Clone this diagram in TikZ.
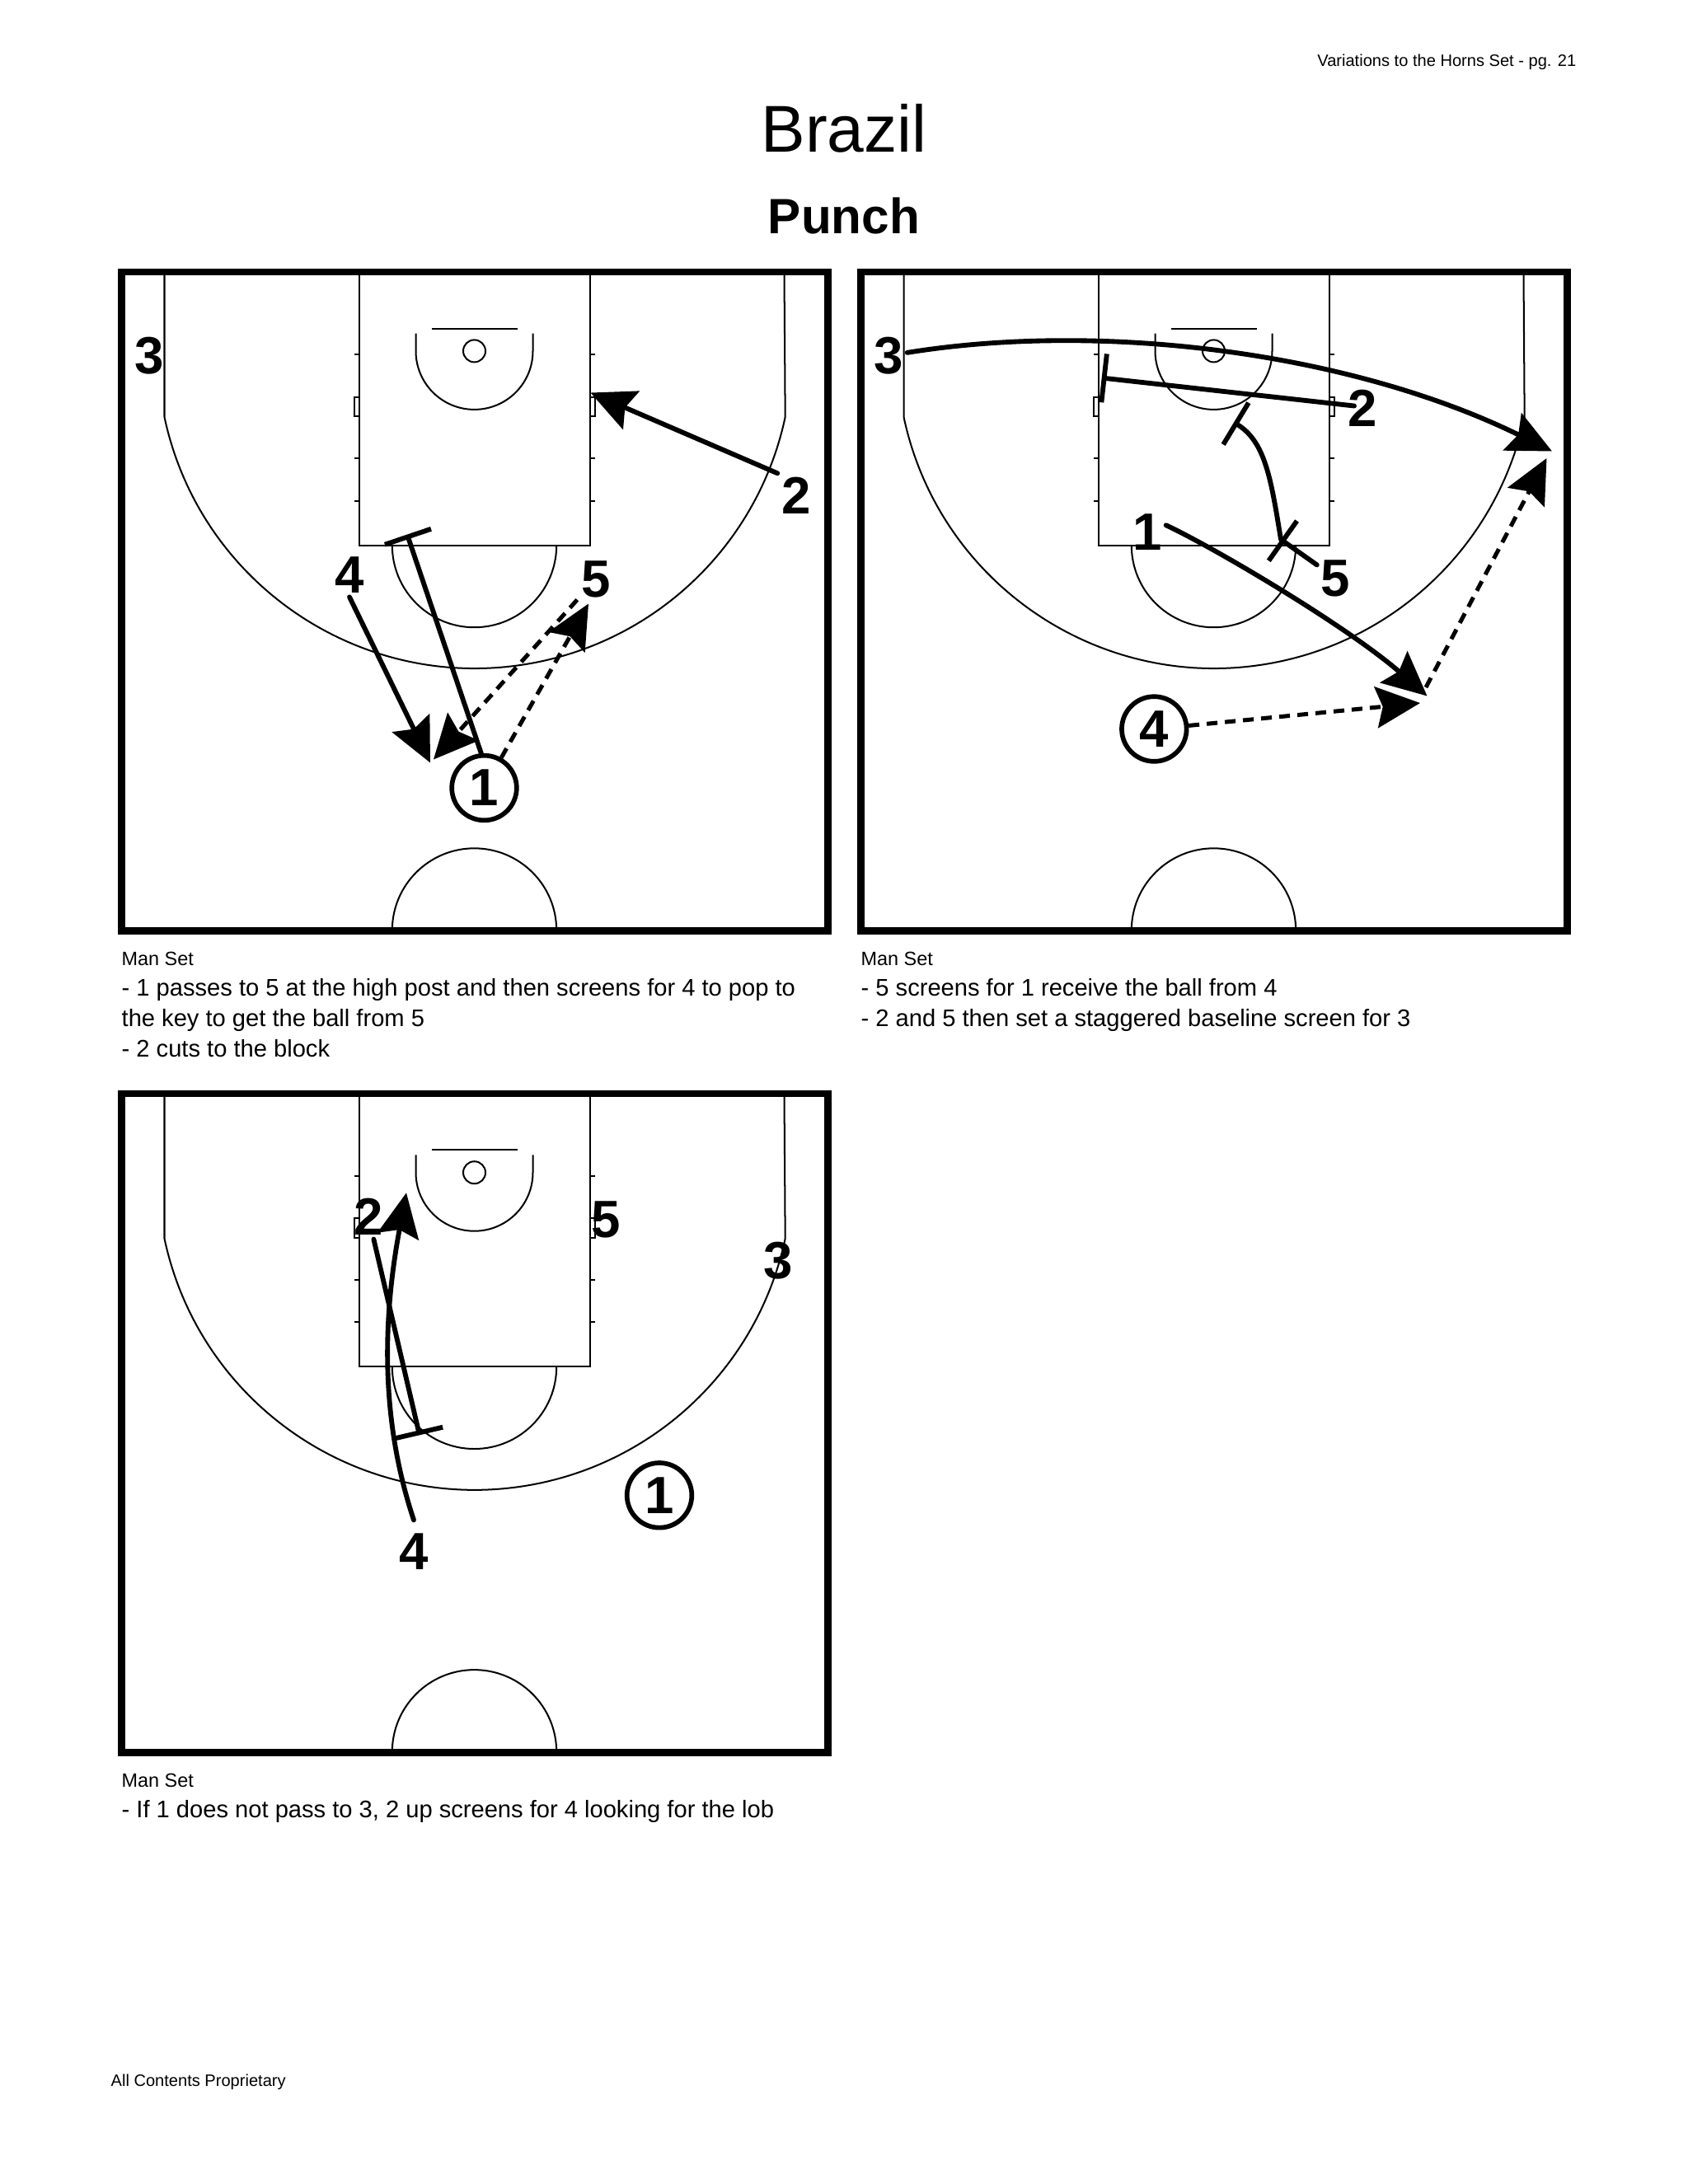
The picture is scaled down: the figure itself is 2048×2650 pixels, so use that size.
\documentclass[tikz,border=0pt]{standalone}
\usepackage{fontspec}
\setmainfont{Liberation Sans}
\usetikzlibrary{arrows.meta, positioning}

% half court, local origin at the top left corner of the frame
\newcommand{\courtlines}{
    \draw[thickline] (-0.5,-0.5) rectangle (856.5,799);
    \draw[courtline] (288,0) -- (288,331) -- (568,331) -- (568,0);
    \draw[courtline] (375.5,68) -- (479.5,68);
    \draw[courtline] (427.5,95.4) circle[radius=13.5];
    \draw[courtline] (356.5,74) -- (356.5,95.4) arc[start angle=180, end angle=0, radius=71] -- (498.5,74);
    \draw[courtline] (327.8,331) arc[start angle=180, end angle=0, radius=99.7];
    \draw[courtline] (327.8,798.5) arc[start angle=180, end angle=360, radius=99.7];
    \draw[courtline] (51.5,0) -- (51.5,175.5) arc[start angle=168, end angle=12, radius=385] -- (803.5,0);
    \foreach \ty in {99.7,225.5,277} {
        \draw[courtline] (282,\ty) -- (288,\ty);
        \draw[courtline] (568,\ty) -- (574,\ty);
    }
    \draw[courtline] (282,151) rectangle (288,174.5);
    \draw[courtline] (568,151) rectangle (574,174.5);
}

\begin{document}
\begin{tikzpicture}[
    x=0.29883pt, y=0.29883pt, yscale=-1,
    courtline/.style={line width=0.6pt},
    thickline/.style={line width=2.5pt},
    player/.style={font=\fontsize{19}{19}\selectfont\bfseries, inner sep=0pt, outer sep=1.5pt},
    ballplayer/.style={player, circle, draw, line width=1.7pt, minimum size=23.5pt, outer sep=0.8pt},
    cut/.style={line width=1.75pt, line cap=round, -{Stealth[length=16pt, width=15pt, inset=2.4pt]}},
    pass/.style={cut, line width=1.5pt, dash pattern=on 3.9pt off 2.7pt, line cap=butt},
    screen/.style={line width=1.75pt, line cap=round, -{Bar[width=17.7pt]}},
    caption/.style={font=\fontsize{8.7}{11.1}\selectfont, align=left, anchor=north west, inner sep=0pt},
    setnote/.style={font=\fontsize{7}{9}\selectfont, inner sep=0pt, anchor=west},
    smallnote/.style={font=\fontsize{6}{8}\selectfont, inner sep=0pt},
]

\useasboundingbox (0,0) rectangle (2048,2650);

% Heading
\node[smallnote, anchor=east] (pagehead) at (1913,75) {Variations to the Horns Set - pg. 21};
\node[font=\fontsize{24}{24}\selectfont, inner sep=0pt] (title) at (1024,155.5) {Brazil};
\node[font=\fontsize{18}{18}\selectfont\bfseries, inner sep=0pt] (subtitle) at (1024,262) {Punch};

% Court 1
\begin{scope}[shift={(148,330.5)}]
\courtlines
\node[player] (a3) at (33,101) {3};
\node[player] (a2) at (818,271) {2};
\node[player] (a4) at (276,367) {4};
\node[player] (a5) at (575,372) {5};
\node[ballplayer] (a1) at (439.5,625.5) {1};
\coordinate (a2end) at (568.5,146);
\coordinate (a4end) at (374,595);
\coordinate (a5end) at (378,591);
\coordinate (a1end) at (566,402);
\coordinate (a1screen) at (346,318);
\draw[cut] (a2.north west) -- (a2end);
\draw[cut] (a4.south) -- (a4end);
\draw[pass] (a5) -- (a5end);
\draw[pass] (a1) -- (a1end);
\draw[screen] (a1.95) -- (a1screen);
\node[setnote] (aset) at (-1,833) {Man Set};
\node[caption] (atext) at (-1,856)
    {- 1 passes to 5 at the high post and then screens for 4 to pop to\\the key to get the ball from 5\\- 2 cuts to the block};
\end{scope}

% Court 2
\begin{scope}[shift={(1045,330.5)}]
\courtlines
\node[player] (b3) at (33,101) {3};
\node[player] (b2) at (608,165) {2};
\node[player] (b5) at (575.5,371) {5};
\node[player] (b1) at (347,315) {1};
\node[ballplayer] (b4) at (355.3,554) {4};
\coordinate (b3end) at (838,217);
\coordinate (b2start) at (598,162);
\coordinate (b2screen) at (291.7,128);
\coordinate (b5screen) at (509,324);
\coordinate (b5top) at (452,182);
\coordinate (b1end) at (686.5,514);
\coordinate (b4end) at (678,522.5);
\coordinate (b4cut) at (685,503.5);
\coordinate (b4cutend) at (831.5,225.5);
\draw[cut] (b3) .. controls (300,58) and (600,100) .. (b3end);
\draw[screen] (b2start) -- (b2screen);
\draw[screen] (b5) -- (b5screen);
\draw[screen] (b5screen) .. controls (497,250) and (490,205) .. (b5top);
\draw[cut] (b1.20) .. controls (430,335) and (590,430) .. (b1end);
\draw[pass] (b4) -- (b4end);
\draw[pass] (b4cut) -- (b4cutend);
\node[setnote] (bset) at (-1,833) {Man Set};
\node[caption] (btext) at (-1,856)
    {- 5 screens for 1 receive the ball from 4\\- 2 and 5 then set a staggered baseline screen for 3};
\end{scope}

% Court 3
\begin{scope}[shift={(148,1327.3)}]
\courtlines
\node[player] (c2) at (299,149) {2};
\node[player] (c5) at (587,153) {5};
\node[player] (c3) at (796.5,202) {3};
\node[player] (c4) at (354,555.6) {4};
\node[ballplayer] (c1) at (652,487) {1};
\coordinate (c4start) at (354,517);
\coordinate (c4end) at (345,120);
\coordinate (c2screen) at (361,414);
\draw[cut] (c4start) .. controls (315,400) and (315,280) .. (c4end);
\draw[screen] (c2) -- (c2screen);
\node[setnote] (cset) at (-1,833) {Man Set};
\node[caption] (ctext) at (-1,856)
    {- If 1 does not pass to 3, 2 up screens for 4 looking for the lob};
\end{scope}

% Footer
\node[smallnote, anchor=west] (footer) at (134,2526) {All Contents Proprietary};

\end{tikzpicture}
\end{document}
